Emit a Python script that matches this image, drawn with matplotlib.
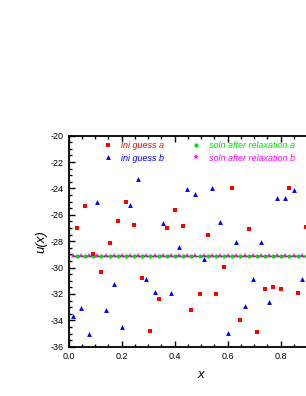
import matplotlib
matplotlib.use("Agg")
import matplotlib.pyplot as plt
from matplotlib.ticker import MultipleLocator

# ---------------------------------------------------------------- datos
X_A = [0.030, 0.061, 0.092, 0.123, 0.154, 0.185, 0.216, 0.246, 0.277, 0.308,
       0.339, 0.370, 0.401, 0.432, 0.463, 0.494, 0.524, 0.555, 0.586, 0.617,
       0.648, 0.679, 0.710, 0.741, 0.772, 0.803, 0.833, 0.864, 0.895]
U_INI_A = [-26.97, -25.33, -29.00, -30.33, -28.10, -26.47, -25.05, -26.74, -30.79, -34.83,
           -32.36, -26.97, -25.63, -26.85, -33.22, -32.03, -27.55, -31.98, -29.95, -23.97,
           -33.95, -27.10, -34.91, -31.65, -31.50, -31.65, -23.99, -31.93, -26.92]

X_B = [0.015, 0.046, 0.077, 0.108, 0.139, 0.170, 0.200, 0.231, 0.262, 0.293,
       0.324, 0.355, 0.386, 0.417, 0.447, 0.478, 0.509, 0.540, 0.571, 0.602,
       0.633, 0.664, 0.694, 0.725, 0.756, 0.787, 0.818, 0.849, 0.880]
U_INI_B = [-33.65, -33.09, -35.03, -25.05, -33.22, -31.27, -34.53, -25.28, -23.31, -30.89,
           -31.83, -26.62, -31.90, -28.41, -24.07, -24.42, -29.37, -23.99, -26.57, -34.98,
           -28.04, -32.90, -30.87, -28.09, -32.60, -24.75, -24.70, -24.14, -30.84]

U_SOLN = -29.1  # ambas soluciones convergen al mismo valor
U_SOLN_A = [U_SOLN] * len(X_A)
U_SOLN_B = [U_SOLN] * len(X_B)

LABELS = ["ini guess a", "ini guess b", "soln after relaxation a", "soln after relaxation b"]

# ---------------------------------------------------------------- estilo
RED = "#ff0000"
BLUE = "#0000ff"
GREEN = "#00e000"
MAGENTA = "#ff00ff"

plt.rcParams.update({
    "font.family": ["Liberation Sans", "DejaVu Sans"],
    "axes.unicode_minus": False,
    "axes.linewidth": 1.3,
})

fig = plt.figure(figsize=(3.06, 3.96), dpi=100)
# el eje se extiende mas alla del borde derecho, como en el original
ax = fig.add_axes([68.7 / 306, 49.3 / 396, 265 / 306, 211 / 396])

ax.plot(X_A + X_B, [U_SOLN] * (len(X_A) + len(X_B)), color="#3a4a3a", lw=0.6, zorder=1)
ax.plot(X_A, U_INI_A, ls="none", marker="s", ms=3.0, color=RED, mew=0, label=LABELS[0], zorder=3)
ax.plot(X_B, U_INI_B, ls="none", marker="^", ms=3.5, color=BLUE, mew=0, label=LABELS[1], zorder=3)
ax.plot(X_A, U_SOLN_A, ls="none", marker="o", ms=3.0, color=GREEN, mew=0, label=LABELS[2], zorder=2)
ax.plot(X_B, U_SOLN_B, ls="none", marker="*", ms=4.0, color=MAGENTA, mew=0, label=LABELS[3], zorder=2)

ax.set_xlim(0, 1.0)
ax.set_ylim(-36, -20)
ax.xaxis.set_major_locator(MultipleLocator(0.2))
ax.xaxis.set_minor_locator(MultipleLocator(0.05))
ax.yaxis.set_major_locator(MultipleLocator(2))
ax.yaxis.set_minor_locator(MultipleLocator(0.5))
ax.xaxis.set_major_formatter(lambda v, p: f"{v:.1f}" if v < 0.9 else "")
ax.tick_params(which="both", direction="in", top=True, right=True, labelsize=6.5,
               width=1.0, pad=3.5)
ax.tick_params(which="major", length=4)
ax.tick_params(which="minor", length=2)

ax.set_xlabel("x", fontsize=9.5, style="italic", labelpad=6)
ax.set_ylabel("u(x)", fontsize=9.5, style="italic", labelpad=2)

leg = ax.legend(ncols=2, frameon=False, loc="upper left",
                bbox_to_anchor=(103.2 / 306, 1 - 141.5 / 396), bbox_transform=fig.transFigure,
                borderpad=0, borderaxespad=0, handlelength=1.0, handletextpad=1.0,
                columnspacing=3.0, labelspacing=0.35, markerscale=1.0,
                prop={"size": 6.5, "style": "italic"}, labelcolor="markerfacecolor")

fig.savefig("out.png", dpi=100)
